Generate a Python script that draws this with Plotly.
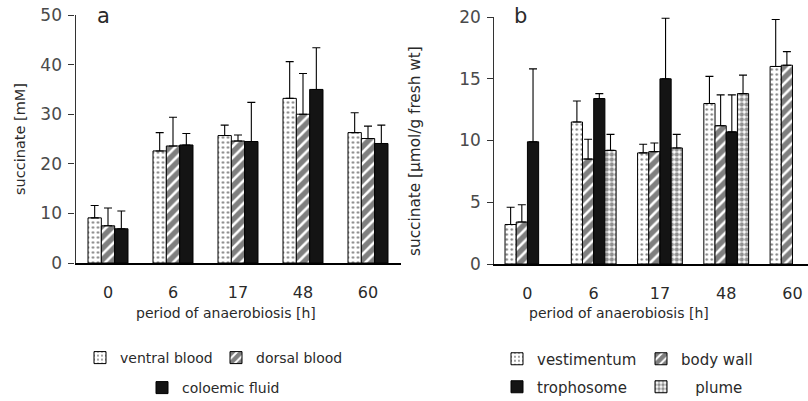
import plotly.graph_objects as go

W, H = 808, 401

# ---- data ----
periods = ["0", "6", "17", "48", "60"]

# panel a: succinate [mM]
ventral_blood = [9.1, 22.6, 25.7, 33.2, 26.3]
ventral_blood_err = [2.5, 3.7, 2.1, 7.4, 4.0]
dorsal_blood = [7.5, 23.6, 24.6, 30.0, 25.1]
dorsal_blood_err = [3.6, 5.8, 1.2, 8.2, 2.5]
coloemic_fluid = [6.9, 23.8, 24.5, 35.0, 24.1]
coloemic_fluid_err = [3.6, 2.3, 7.9, 8.4, 3.7]

# panel b: succinate [umol/g fresh wt]
vestimentum = [3.2, 11.5, 9.0, 13.0, 16.0]
vestimentum_err = [1.4, 1.7, 0.7, 2.2, 3.8]
body_wall = [3.4, 8.5, 9.1, 11.2, 16.1]
body_wall_err = [1.4, 1.6, 0.7, 2.5, 1.1]
trophosome = [9.9, 13.4, 15.0, 10.7, None]
trophosome_err = [5.9, 0.4, 4.9, 3.0, None]
plume = [None, 9.2, 9.4, 13.8, None]
plume_err = [None, 1.3, 1.1, 1.5, None]

FONT = "DejaVu Sans"
TXT = "#2a2a2a"

def px_x(x):
    return x / W

def px_y(y):
    return 1 - y / H

dot_pat = dict(shape=".", fgcolor="black", bgcolor="white", size=5, solidity=0.18)
hatch_pat = dict(shape="/", fgcolor="black", bgcolor="white", size=8, solidity=0.68)
plume_pat = dict(shape=".", fgcolor="#222", bgcolor="white", size=5, solidity=0.6)

fig = go.Figure()

def add_bar(name, y, err, pattern, color, xa, ya, offset, width, legend):
    marker = dict(color=color, line=dict(color="black", width=1))
    if pattern is not None:
        marker["pattern"] = pattern
    fig.add_trace(go.Bar(
        name=name, x=periods, y=y, xaxis=xa, yaxis=ya,
        offset=offset, width=width, marker=marker,
        error_y=dict(type="data", symmetric=False, array=err,
                     arrayminus=[0] * len(err), color="black",
                     thickness=1.1, width=4),
        legend=legend,
    ))

wa = 0.205
add_bar("ventral blood", ventral_blood, ventral_blood_err, dot_pat, "white", "x", "y", -0.3075, wa, "legend")
add_bar("dorsal blood", dorsal_blood, dorsal_blood_err, hatch_pat, "white", "x", "y", -0.1025, wa, "legend2")
add_bar("coloemic fluid", coloemic_fluid, coloemic_fluid_err, None, "#141414", "x", "y", 0.1025, wa, "legend3")

wb = 0.169
add_bar("vestimentum", vestimentum, vestimentum_err, dot_pat, "white", "x2", "y2", -0.338, wb, "legend4")
add_bar("body wall", body_wall, body_wall_err, hatch_pat, "white", "x2", "y2", -0.169, wb, "legend5")
add_bar("trophosome", trophosome, trophosome_err, None, "#141414", "x2", "y2", 0.0, wb, "legend6")
add_bar("\u00a0\u00a0\u00a0plume", plume, plume_err, plume_pat, "white", "x2", "y2", 0.169, wb, "legend7")

xcommon = dict(type="category", showline=True, linecolor="black", linewidth=1.5,
               ticks="", showgrid=False, zeroline=False, automargin=False,
               tickfont=dict(size=16, color=TXT, family=FONT),
               ticklabelstandoff=14, ticklabeloverflow="allow")
ycommon = dict(showline=True, linecolor="#333", linewidth=1.2, ticks="outside",
               ticklen=6, tickcolor="#333", showgrid=False, zeroline=False,
               automargin=False, ticklabeloverflow="allow",
               tickfont=dict(size=17, color="#4a4a4a", family=FONT),
               ticklabelstandoff=3)

def leg(box_x, y, size):
    return dict(orientation="h", xanchor="left", yanchor="middle",
                font=dict(size=size, family=FONT, color=TXT),
                bgcolor="rgba(0,0,0,0)", borderwidth=0,
                x=px_x(box_x - 14), y=px_y(y))

fig.update_layout(
    width=W, height=H,
    margin=dict(l=0, r=0, t=0, b=0, autoexpand=False),
    plot_bgcolor="white", paper_bgcolor="white",
    barmode="overlay",
    font=dict(family=FONT, color=TXT),
    xaxis=dict(xcommon, domain=[px_x(75.5), px_x(400.5)], range=[-0.5, 4.5], anchor="y"),
    yaxis=dict(ycommon, domain=[px_y(263), px_y(15)], range=[0, 50.01], tickvals=[0, 10, 20, 30, 40, 50], anchor="x"),
    xaxis2=dict(xcommon, domain=[px_x(494.3), 1.0], range=[-0.5, 4.234], anchor="y2"),
    yaxis2=dict(ycommon, domain=[px_y(264), px_y(17)], range=[0, 20.005], tickvals=[0, 5, 10, 15, 20], anchor="x2"),
    legend=leg(94, 358, 14),
    legend2=leg(230, 358, 14),
    legend3=leg(156, 388, 14),
    legend4=leg(511, 359, 15),
    legend5=leg(655, 359, 15),
    legend6=leg(511, 387, 15),
    legend7=leg(655, 387, 15),
    showlegend=True,
)

def label(text, x, y, size=13, angle=0):
    return dict(text=text, x=px_x(x), y=px_y(y), xref="paper", yref="paper",
                xanchor="center", yanchor="middle", showarrow=False, textangle=angle,
                font=dict(size=size, family=FONT, color=TXT))

ann = [
    label("a", 103, 16, 21),
    label("b", 520, 16, 21),
    label("succinate [mM]", 20, 139, 14.5, -90),
    label("succinate [µmol/g fresh wt]", 415, 151, 15.3, -90),
    label("period of anaerobiosis [h]", 226, 313, 14),
    label("period of anaerobiosis [h]", 619, 313, 14),
]
fig.update_layout(annotations=ann)

fig.write_html("out.html", config={"displayModeBar": False},
               post_script="document.body.style.margin='0';")
